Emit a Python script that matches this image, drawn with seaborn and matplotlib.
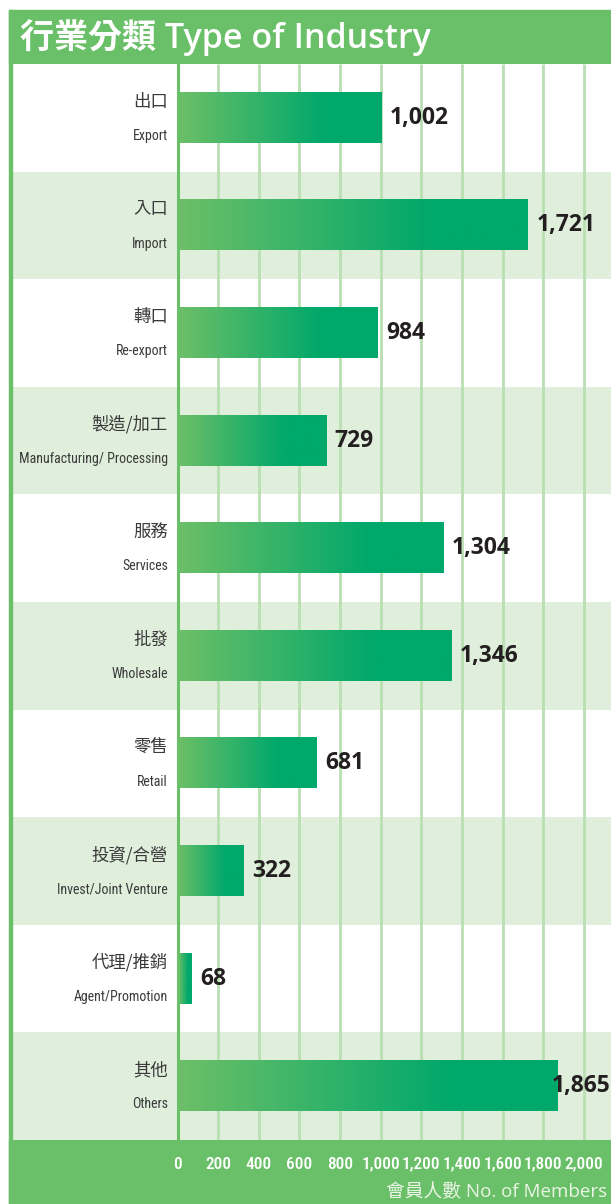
import numpy as np
import pandas as pd
import matplotlib
matplotlib.use("Agg")
import matplotlib.pyplot as plt
import seaborn as sns
from matplotlib.patches import Rectangle
from matplotlib.colors import LinearSegmentedColormap
from matplotlib import font_manager as fm

categories_zh = ['出口', '入口', '轉口', '製造/加工', '服務', '批發', '零售', '投資/合營', '代理/推銷', '其他']
categories_en = ['Export', 'Import', 'Re-export', 'Manufacturing/ Processing', 'Services',
                 'Wholesale', 'Retail', 'Invest/Joint Venture', 'Agent/Promotion', 'Others']
values = [1002, 1721, 984, 729, 1304, 1346, 681, 322, 68, 1865]
tick_values = [0, 200, 400, 600, 800, 1000, 1200, 1400, 1600, 1800, 2000]
tick_labels = ['0', '200', '400', '600', '800', '1,000', '1,200', '1,400', '1,600', '1,800', '2,000']
title_text = '行業分類 Type of Industry'
xlabel_text = '會員人數 No. of Members'

GREEN = '#6abf69'
DARK = '#00a86b'
BAND = '#e0efdc'
GRID = '#b9dfb2'
TXT = '#3a3a3a'

sns.set_theme(style='white')
plt.rcParams['font.family'] = ['Open Sans', 'Noto Sans CJK TC', 'DejaVu Sans']

# pick a narrow face if one is installed
names = {f.name for f in fm.fontManager.ttflist}
cond = [f for f in fm.fontManager.ttflist
        if ('Narrow' in f.name or 'Condensed' in f.name or f.stretch in ('condensed', 'semi-condensed', 'extra-condensed', 575, 600, 625, 500, 550))]
NARROW_FAMILY = None
for cand in ['Liberation Sans Narrow', 'Roboto Condensed', 'Open Sans Condensed', 'DejaVu Sans Condensed']:
    if cand in names:
        NARROW_FAMILY = cand
        break
narrow_kw = {}
if NARROW_FAMILY:
    narrow_kw = dict(family=[NARROW_FAMILY])
else:
    dj = [f for f in cond if f.name == 'DejaVu Sans']
    if dj:
        narrow_kw = dict(family=['DejaVu Sans'], fontstretch='condensed')
    else:
        narrow_kw = dict(family=['Liberation Sans'])

W, H = 611, 1204
fig = plt.figure(figsize=(W / 100, H / 100), dpi=100)
fig.patch.set_facecolor('white')

X0 = 177.5
k = (584.0 - X0) / 2000.0  # px per unit
ax = fig.add_axes([12 / W, (H - 1140) / H, (W - 12) / W, (1140 - 64) / H])

df = pd.DataFrame({'cat': categories_en, 'value': values})
sns.barplot(data=df, x='value', y='cat', orient='h', color=DARK, width=0.465,
            ax=ax, zorder=3, saturation=1, linewidth=0)
bars = list(ax.containers[0])

n = len(values)
for i in range(n):
    if i % 2 == 1:
        ax.axhspan(i - 0.5, i + 0.5, color=BAND, lw=0, zorder=0)
ax.vlines(tick_values[1:], -0.5, n - 0.5, color=GRID, lw=2, zorder=1)
ax.axvline(0, color=GREEN, lw=2.2, zorder=5)

cmap = LinearSegmentedColormap.from_list('g', [(0, '#6dbf67'), (0.72, DARK), (1, DARK)])
grad = np.linspace(0, 1, 256).reshape(1, -1)
for b in bars:
    b.set_linewidth(0)
    x0, y0, w, h = b.get_x(), b.get_y(), b.get_width(), b.get_height()
    ax.imshow(grad, extent=[x0, x0 + w, y0 + h, y0], aspect='auto', cmap=cmap,
              zorder=4, clip_path=b, interpolation='bilinear')

xmax = (W - X0) / k
for i, v in enumerate(values):
    lab = f'{v:,}'
    if X0 + v * k + 9 + 62 > W:
        ax.text(xmax - 0.5 / k, i, lab, ha='right', va='center', fontsize=16.5,
                fontweight='bold', family='Open Sans', color='#231f20', zorder=6)
    else:
        ax.text(v + 9 / k, i, lab, ha='left', va='center', fontsize=16.5,
                fontweight='bold', family='Open Sans', color='#231f20', zorder=6)
    ax.text((168 - X0) / k, i - 0.15, categories_zh[i], ha='right', va='center',
            fontsize=12.5, family=['Noto Sans CJK TC'], color=TXT, zorder=6)
    ax.text((168 - X0) / k, i + 0.17, categories_en[i], ha='right', va='center',
            fontsize=10, color=TXT, zorder=6, **narrow_kw)

ax.set_xlim(-(X0 - 12) / k, xmax)
ax.set_ylim(n - 0.5, -0.5)
ax.set_xticks(tick_values, tick_labels)
ax.set_yticks([])
ax.tick_params(axis='x', length=0, pad=12, labelcolor='white', labelsize=12.5)
for lab in ax.get_xticklabels():
    lab.set_family(narrow_kw['family'])
    lab.set_fontweight('medium')
    if 'fontstretch' in narrow_kw:
        lab.set_fontstretch(narrow_kw['fontstretch'])
ax.set_xlabel('')
ax.set_ylabel('')
for s in ax.spines.values():
    s.set_visible(False)

fig.patches.append(Rectangle((9 / W, 0), (W - 9) / W, (1204 - 1140) / H,
                             transform=fig.transFigure, color=GREEN, zorder=-1))
fig.patches.append(Rectangle((9 / W, (H - 63) / H), (W - 9) / W, 53 / H,
                             transform=fig.transFigure, color=GREEN, zorder=-1))
fig.patches.append(Rectangle((9 / W, 0), 3 / W, (H - 10) / H,
                             transform=fig.transFigure, color=GREEN, zorder=2))

fig.text(20 / W, (H - 38) / H, title_text, color='white', fontsize=24.5,
         fontweight='semibold', va='center', ha='left')
fig.text(607 / W, (H - 1192) / H, xlabel_text, color='#eaf5e6', fontsize=13.5,
         va='center', ha='right')

fig.savefig('out.png', dpi=100)
